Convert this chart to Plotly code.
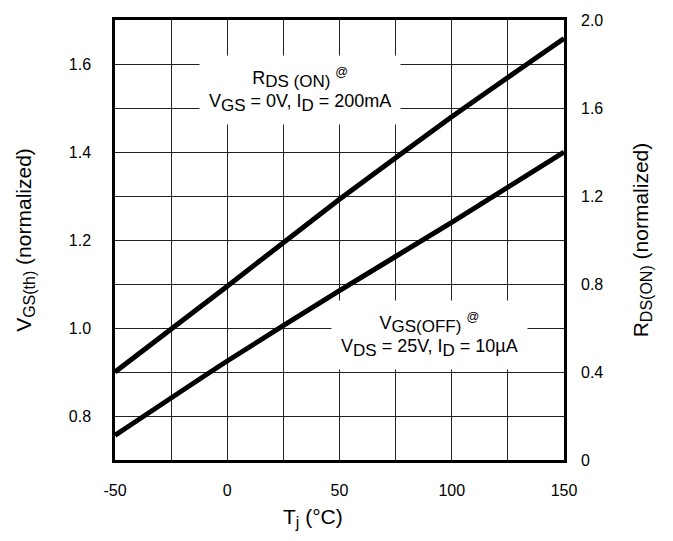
import plotly.graph_objects as go

# Data
temp_c = [-50, 0, 50, 100, 150]
vgs_off_norm = [0.756, 0.925, 1.085, 1.240, 1.400]
rds_on_norm = [0.40, 0.79, 1.185, 1.56, 1.916]

x_tickvals = [-50, 0, 50, 100, 150]
x_ticktext = ["-50", "0", "50", "100", "150"]
yl_tickvals = [0.8, 1.0, 1.2, 1.4, 1.6]
yl_ticktext = ["0.8", "1.0", "1.2", "1.4", "1.6"]
yr_tickvals = [0, 0.4, 0.8, 1.2, 1.6, 2.0]
yr_ticktext = ["0", "0.4", "0.8", "1.2", "1.6", "2.0"]

FONT = "Liberation Sans, Arial, Helvetica, sans-serif"


def sub(t, px):
    return "<sub><span style='font-size:%dpx'>%s</span></sub>" % (px, t)


fig = go.Figure()
fig.add_trace(go.Scatter(x=temp_c, y=vgs_off_norm, mode="lines",
                         line=dict(color="black", width=5, shape="spline", smoothing=0.6),
                         yaxis="y", showlegend=False, hoverinfo="skip"))
fig.add_trace(go.Scatter(x=temp_c, y=rds_on_norm, mode="lines",
                         line=dict(color="black", width=5, shape="spline", smoothing=0.6),
                         yaxis="y2", showlegend=False, hoverinfo="skip"))

fig.update_layout(
    width=673, height=541,
    margin=dict(l=115, r=109, t=13, b=81),
    paper_bgcolor="white", plot_bgcolor="white",
    font=dict(family=FONT, color="black", size=16),
    xaxis=dict(range=[-50, 150], tickvals=x_tickvals, ticktext=x_ticktext,
               showgrid=True, gridcolor="#222", gridwidth=1,
               minor=dict(tick0=-50, dtick=25, showgrid=True, gridcolor="#222", gridwidth=1, ticks=""),
               showline=True, linecolor="black", linewidth=2.5, mirror=True,
               zeroline=False, ticks="", ticklabelstandoff=14,
               tickfont=dict(size=16)),
    yaxis=dict(range=[0.7, 1.7], tickvals=yl_tickvals, ticktext=yl_ticktext,
               showgrid=True, gridcolor="#222", gridwidth=1,
               minor=dict(tick0=0.7, dtick=0.1, showgrid=True, gridcolor="#222", gridwidth=1, ticks=""),
               showline=True, linecolor="black", linewidth=2.5, mirror=True,
               zeroline=False, ticks="", ticklabelstandoff=18,
               tickfont=dict(size=16),
               title=dict(text="V" + sub("GS(th)", 16) + " (normalized)", font=dict(size=21), standoff=32)),
    yaxis2=dict(range=[0, 2.0], tickvals=yr_tickvals, ticktext=yr_ticktext,
                overlaying="y", side="right", showgrid=False, zeroline=False,
                showline=False, ticks="", ticklabelstandoff=16,
                tickfont=dict(size=16),
                title=dict(text="R" + sub("DS(ON)", 16) + " (normalized)", font=dict(size=21), standoff=30)),
    annotations=[
        dict(x=32.4, y=1.54, xref="x", yref="y",
             text="R" + sub("DS (ON)", 17) + " <sup>@</sup><br>V" + sub("GS", 17)
                  + " = 0V, I" + sub("D", 17) + " = 200mA",
             showarrow=False, bgcolor="white", borderpad=9,
             font=dict(size=18, family=FONT), align="center"),
        dict(x=90.3, y=0.985, xref="x", yref="y",
             text="V" + sub("GS(OFF)", 17) + " <sup>@</sup><br>V" + sub("DS", 17)
                  + " = 25V, I" + sub("D", 17) + " = 10µA",
             showarrow=False, bgcolor="white", borderpad=9,
             font=dict(size=18, family=FONT), align="center"),
        dict(x=0.441, y=-0.131, xref="paper", yref="paper",
             text="T" + sub("j", 16) + " (°C)", showarrow=False,
             xanchor="center", yanchor="middle",
             font=dict(size=21, family=FONT)),
    ],
)

fig.write_html("out.html")
